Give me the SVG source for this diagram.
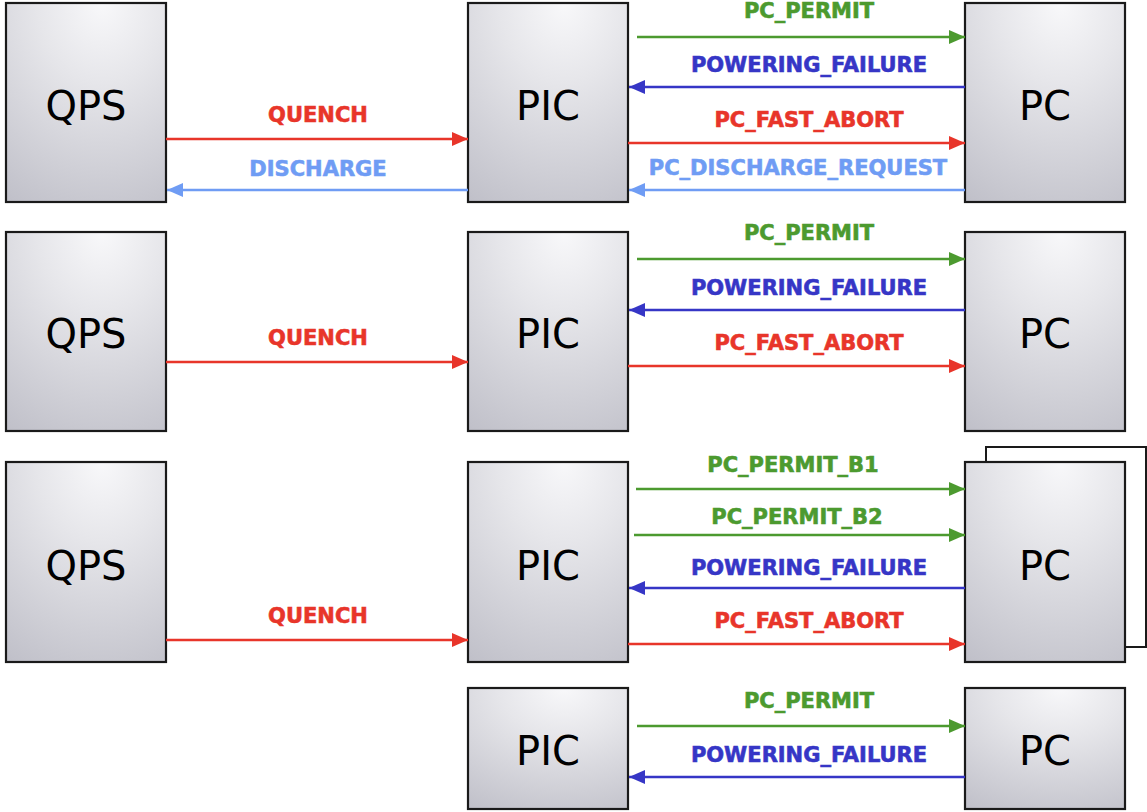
<svg xmlns="http://www.w3.org/2000/svg" width="1147" height="812" viewBox="0 0 1147 812">
  <defs>
    <radialGradient id="boxFill" gradientUnits="objectBoundingBox" cx="0.6" cy="0" r="1.15" fx="0.6" fy="0">
      <stop offset="0" stop-color="#f8f8fa"/>
      <stop offset="0.35" stop-color="#e6e6ea"/>
      <stop offset="1" stop-color="#c0c0c9"/>
    </radialGradient>
    <marker id="ahGreen" viewBox="0 0 16 14" refX="16" refY="7" markerWidth="16" markerHeight="14" markerUnits="userSpaceOnUse" orient="auto">
      <path d="M0,0 L16,7 L0,14 Z" fill="#4c9a2f"/>
    </marker>
    <marker id="ahBlue" viewBox="0 0 16 14" refX="16" refY="7" markerWidth="16" markerHeight="14" markerUnits="userSpaceOnUse" orient="auto">
      <path d="M0,0 L16,7 L0,14 Z" fill="#3636c6"/>
    </marker>
    <marker id="ahRed" viewBox="0 0 16 14" refX="16" refY="7" markerWidth="16" markerHeight="14" markerUnits="userSpaceOnUse" orient="auto">
      <path d="M0,0 L16,7 L0,14 Z" fill="#e8352a"/>
    </marker>
    <marker id="ahLight" viewBox="0 0 16 14" refX="16" refY="7" markerWidth="16" markerHeight="14" markerUnits="userSpaceOnUse" orient="auto">
      <path d="M0,0 L16,7 L0,14 Z" fill="#6f9cf4"/>
    </marker>
  </defs>
  <style>
    .box { fill: url(#boxFill); stroke: #1a1a1a; stroke-width: 2.2; }
    .back { fill: #ffffff; stroke: #1a1a1a; stroke-width: 2; }
    .name { font-family: "DejaVu Sans", Verdana, sans-serif; font-size: 40px; fill: #000; text-anchor: middle; }
    .sig { font-family: "DejaVu Sans", Verdana, sans-serif; font-size: 21px; font-weight: bold; text-anchor: middle; stroke-width: 0.6; }
    .line { fill: none; stroke-width: 2.6; }
    .g { stroke: #4c9a2f; marker-end: url(#ahGreen); }
    .b { stroke: #3636c6; marker-end: url(#ahBlue); }
    .r { stroke: #e8352a; marker-end: url(#ahRed); }
    .l { stroke: #6f9cf4; marker-end: url(#ahLight); }
    .tg { fill: #4c9a2f; stroke: #4c9a2f; }
    .tb { fill: #3636c6; stroke: #3636c6; }
    .tr { fill: #e8352a; stroke: #e8352a; }
    .tl { fill: #6f9cf4; stroke: #6f9cf4; }
  </style>

  <rect width="1147" height="812" fill="#ffffff"/>

  <!-- row 1 -->
  <g id="qps1"><rect class="box" x="6" y="3" width="160" height="199"/><text class="name" x="86" y="120">QPS</text></g>
  <g id="pic1"><rect class="box" x="468" y="3" width="160" height="199"/><text class="name" x="548" y="120">PIC</text></g>
  <g id="pc1"><rect class="box" x="965" y="3" width="160" height="199"/><text class="name" x="1045" y="120">PC</text></g>

  <!-- row 2 -->
  <g id="qps2"><rect class="box" x="6" y="232" width="160" height="199"/><text class="name" x="86" y="348">QPS</text></g>
  <g id="pic2"><rect class="box" x="468" y="232" width="160" height="199"/><text class="name" x="548" y="348">PIC</text></g>
  <g id="pc2"><rect class="box" x="965" y="232" width="160" height="199"/><text class="name" x="1045" y="348">PC</text></g>

  <!-- row 3 -->
  <g id="qps3"><rect class="box" x="6" y="462" width="160" height="200"/><text class="name" x="86" y="580">QPS</text></g>
  <g id="pic3"><rect class="box" x="468" y="462" width="160" height="200"/><text class="name" x="548" y="580">PIC</text></g>
  <g id="pc3">
    <rect class="back" x="986" y="447" width="160" height="200"/>
    <rect class="box" x="965" y="462" width="160" height="200"/>
    <text class="name" x="1045" y="580">PC</text>
  </g>

  <!-- row 4 -->
  <g id="pic4"><rect class="box" x="468" y="688" width="160" height="121"/><text class="name" x="548" y="765">PIC</text></g>
  <g id="pc4"><rect class="box" x="965" y="688" width="160" height="121"/><text class="name" x="1045" y="765">PC</text></g>

  <g id="connectors">
    <!-- row 1 -->
    <line class="line g" x1="637" y1="37" x2="965" y2="37"/>
    <line class="line b" x1="965" y1="87" x2="629" y2="87"/>
    <line class="line r" x1="628" y1="143" x2="965" y2="143"/>
    <line class="line l" x1="965" y1="190" x2="629" y2="190"/>
    <line class="line r" x1="166" y1="139" x2="468" y2="139"/>
    <line class="line l" x1="468" y1="190" x2="167" y2="190"/>
    <!-- row 2 -->
    <line class="line g" x1="637" y1="259" x2="965" y2="259"/>
    <line class="line b" x1="965" y1="310" x2="629" y2="310"/>
    <line class="line r" x1="628" y1="366" x2="965" y2="366"/>
    <line class="line r" x1="166" y1="362" x2="468" y2="362"/>
    <!-- row 3 -->
    <line class="line g" x1="636" y1="489" x2="965" y2="489"/>
    <line class="line g" x1="634" y1="535" x2="965" y2="535"/>
    <line class="line b" x1="965" y1="588" x2="629" y2="588"/>
    <line class="line r" x1="628" y1="644" x2="965" y2="644"/>
    <line class="line r" x1="166" y1="640" x2="468" y2="640"/>
    <!-- row 4 -->
    <line class="line g" x1="637" y1="726" x2="965" y2="726"/>
    <line class="line b" x1="965" y1="777" x2="629" y2="777"/>

    <!-- labels -->
    <text class="sig tg" x="809" y="18">PC_PERMIT</text>
    <text class="sig tb" x="809" y="72">POWERING_FAILURE</text>
    <text class="sig tr" x="809" y="127">PC_FAST_ABORT</text>
    <text class="sig tl" x="798" y="175">PC_DISCHARGE_REQUEST</text>
    <text class="sig tr" x="318" y="122">QUENCH</text>
    <text class="sig tl" x="318" y="176">DISCHARGE</text>

    <text class="sig tg" x="809" y="240">PC_PERMIT</text>
    <text class="sig tb" x="809" y="295">POWERING_FAILURE</text>
    <text class="sig tr" x="809" y="350">PC_FAST_ABORT</text>
    <text class="sig tr" x="318" y="345">QUENCH</text>

    <text class="sig tg" x="793" y="472">PC_PERMIT_B1</text>
    <text class="sig tg" x="797" y="524">PC_PERMIT_B2</text>
    <text class="sig tb" x="809" y="575">POWERING_FAILURE</text>
    <text class="sig tr" x="809" y="628">PC_FAST_ABORT</text>
    <text class="sig tr" x="318" y="623">QUENCH</text>

    <text class="sig tg" x="809" y="708">PC_PERMIT</text>
    <text class="sig tb" x="809" y="762">POWERING_FAILURE</text>
  </g>
</svg>
